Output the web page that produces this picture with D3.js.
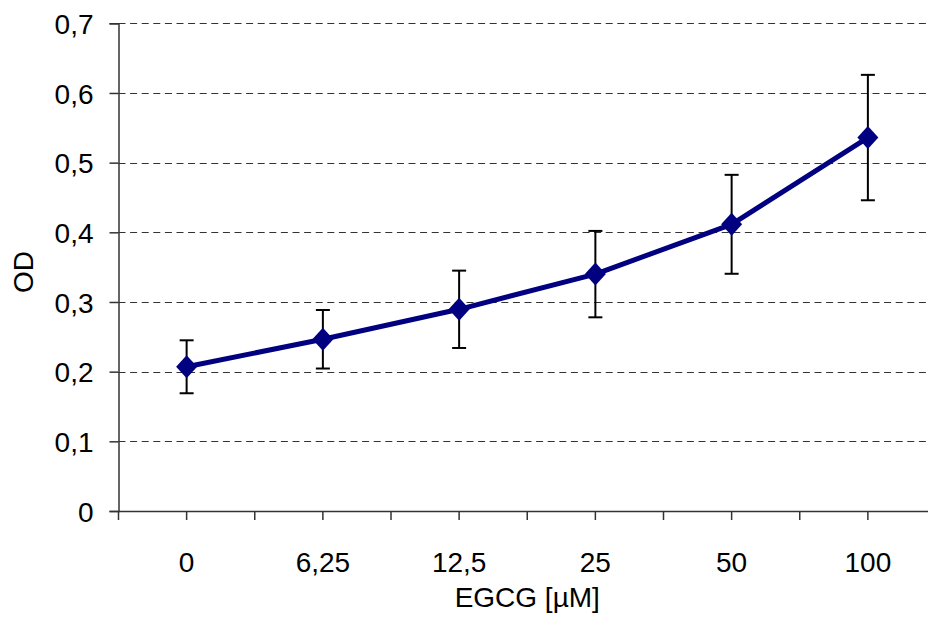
<!DOCTYPE html>
<html><head><meta charset="utf-8">
<script src="https://cdn.jsdelivr.net/npm/d3@7"></script>
<style>body{margin:0;background:#fff}svg{display:block}text{font-family:"Liberation Sans",Arial,sans-serif;fill:#000}</style>
</head><body><svg id="c" width="928" height="619"></svg>
<script>
const categories = ["0", "6,25", "12,5", "25", "50", "100"];
const odValues = [0.207, 0.2465, 0.2895, 0.340, 0.4115, 0.536];
const odErrors = [0.038, 0.042, 0.0555, 0.062, 0.071, 0.090];
const yTicks = [0, 0.1, 0.2, 0.3, 0.4, 0.5, 0.6, 0.7];
const yTickLabels = ["0", "0,1", "0,2", "0,3", "0,4", "0,5", "0,6", "0,7"];

const svg = d3.select("#c");
const mLeft = 118.5, mRight = 936, mTop = 23.3, mBottom = 511;
const x = d3.scaleBand().domain(categories).range([mLeft, mRight]).padding(0);
const y = d3.scaleLinear().domain([0, 0.7]).range([mBottom, mTop]);

// gridlines
svg.append("g").selectAll("line").data(yTicks.filter(d => d > 0)).join("line")
  .attr("x1", mLeft).attr("x2", 928).attr("y1", d => Math.round(y(d)) + 0.5).attr("y2", d => Math.round(y(d)) + 0.5)
  .attr("stroke", "#333").attr("stroke-width", 1).attr("stroke-dasharray", "7,4.6");

// y axis
const yAxis = d3.axisLeft(y).tickValues(yTicks).tickFormat((d, i) => yTickLabels[i]).tickSize(9).tickPadding(16);
const gy = svg.append("g").attr("transform", `translate(${mLeft},0)`).call(yAxis);
gy.select(".domain").attr("stroke", "#333").attr("stroke-width", 1.5);
gy.selectAll(".tick line").attr("stroke", "#333").attr("stroke-width", 1.5);
gy.selectAll(".tick text").attr("font-size", 28).attr("font-family", "Liberation Sans, Arial, sans-serif").attr("fill", "#000").attr("dy", "0.36em");

// x axis
const xAxis = d3.axisBottom(x).tickSize(0).tickPadding(41);
const gx = svg.append("g").attr("transform", `translate(0,${mBottom})`).call(xAxis);
gx.select(".domain").attr("stroke", "#333").attr("stroke-width", 1.5);
gx.selectAll(".tick text").attr("font-size", 28).attr("font-family", "Liberation Sans, Arial, sans-serif").attr("fill", "#000");
// tick marks at boundaries and centers
const tickPos = [];
categories.forEach(c => { tickPos.push(x(c)); tickPos.push(x(c) + x.bandwidth() / 2); });
tickPos.push(mRight);
svg.append("g").selectAll("line").data(tickPos).join("line")
  .attr("x1", d => d).attr("x2", d => d).attr("y1", mBottom).attr("y2", mBottom + 9)
  .attr("stroke", "#333").attr("stroke-width", 1.5);

const cx = c => x(c) + x.bandwidth() / 2;

// error bars
const eb = svg.append("g").attr("stroke", "#000").attr("stroke-width", 2);
categories.forEach((c, i) => {
  const yt = y(odValues[i] + odErrors[i]), yb = y(odValues[i] - odErrors[i]);
  eb.append("line").attr("x1", cx(c)).attr("x2", cx(c)).attr("y1", yt).attr("y2", yb);
  eb.append("line").attr("x1", cx(c) - 7).attr("x2", cx(c) + 7).attr("y1", yt).attr("y2", yt);
  eb.append("line").attr("x1", cx(c) - 7).attr("x2", cx(c) + 7).attr("y1", yb).attr("y2", yb);
});

// line
const line = d3.line().x((d, i) => cx(categories[i])).y(d => y(d));
svg.append("path").datum(odValues).attr("d", line).attr("fill", "none")
  .attr("stroke", "#000080").attr("stroke-width", 5).attr("stroke-linejoin", "round");

// markers
svg.append("g").selectAll("path").data(odValues).join("path")
  .attr("transform", (d, i) => `translate(${cx(categories[i])},${y(d)})`)
  .attr("d", "M0,-11.5L10.5,0L0,11.5L-10.5,0Z").attr("fill", "#000080");

// axis titles
svg.append("text").attr("x", (mLeft + mRight) / 2).attr("y", 607).attr("text-anchor", "middle")
  .attr("font-size", 28).text("EGCG [µM]");
svg.append("text").attr("transform", "translate(33,272) rotate(-90)").attr("text-anchor", "middle")
  .attr("font-size", 28).text("OD");
</script></body></html>
